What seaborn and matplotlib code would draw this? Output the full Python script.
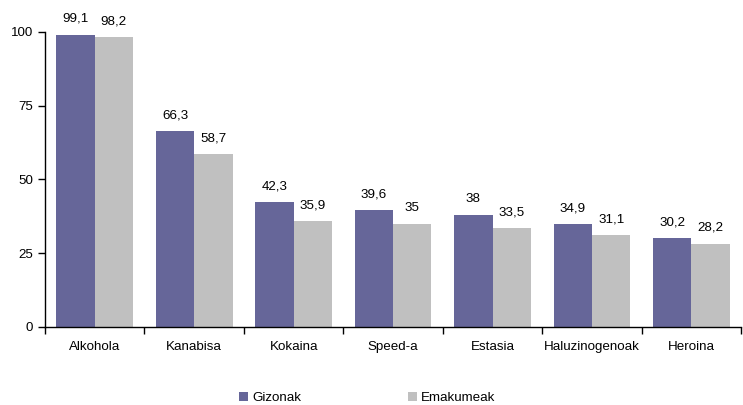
import matplotlib
matplotlib.use("Agg")
import matplotlib.pyplot as plt
import numpy as np
import pandas as pd
import seaborn as sns

categories = ["Alkohola", "Kanabisa", "Kokaina", "Speed-a", "Estasia", "Haluzinogenoak", "Heroina"]
gizonak = [99.1, 66.3, 42.3, 39.6, 38, 34.9, 30.2]
emakumeak = [98.2, 58.7, 35.9, 35, 33.5, 31.1, 28.2]
series = ["Gizonak", "Emakumeak"]
colors = ["#666699", "#C0C0C0"]

df = pd.DataFrame({
    "cat": categories * 2,
    "val": gizonak + emakumeak,
    "sex": [series[0]] * len(categories) + [series[1]] * len(categories),
})

sns.set_style("white")
plt.rcParams["font.family"] = ["Liberation Sans", "DejaVu Sans"]
plt.rcParams["text.color"] = "black"
plt.rcParams["xtick.color"] = "black"
plt.rcParams["ytick.color"] = "black"
fs = 9.6

fig = plt.figure(figsize=(7.43, 4.05), dpi=100)
ax = fig.add_axes([0.0606, 0.193, 0.937, 0.728])
sns.barplot(data=df, x="cat", y="val", hue="sex", hue_order=series, palette=colors,
            width=0.77, saturation=1, linewidth=0, ax=ax, legend=True)

def fmt(v):
    s = f"{v:g}"
    return s.replace(".", ",")

for cont in ax.containers:
    ax.bar_label(cont, labels=[fmt(b.get_height()) for b in cont], padding=7, fontsize=fs, color="black")

ax.set_ylim(0, 100)
ax.set_yticks([0, 25, 50, 75, 100])
ax.set_xlim(-0.5, len(categories) - 0.5)
ax.set_xticks(np.arange(-0.5, len(categories)), minor=True)
ax.tick_params(axis="x", which="major", length=0, labelsize=fs, pad=10)
ax.tick_params(axis="x", which="minor", length=5, width=1, color="black", direction="out", bottom=True)
ax.tick_params(axis="y", length=5, width=1, color="black", direction="out", left=True, labelsize=fs)
ax.set_xlabel("")
ax.set_ylabel("")
for s in ["top", "right"]:
    ax.spines[s].set_visible(False)
for s in ["left", "bottom"]:
    ax.spines[s].set_color("black")
    ax.spines[s].set_linewidth(1)

handles, labels = ax.get_legend_handles_labels()
ax.get_legend().remove()
fig.legend(handles, labels, loc="center", bbox_to_anchor=(367 / 743, 1 - 398 / 405), ncol=2, frameon=False,
           fontsize=fs, handlelength=0.7, handleheight=0.7, handletextpad=0.3, columnspacing=8,
           borderpad=0)

fig.savefig("out.png", dpi=100)
